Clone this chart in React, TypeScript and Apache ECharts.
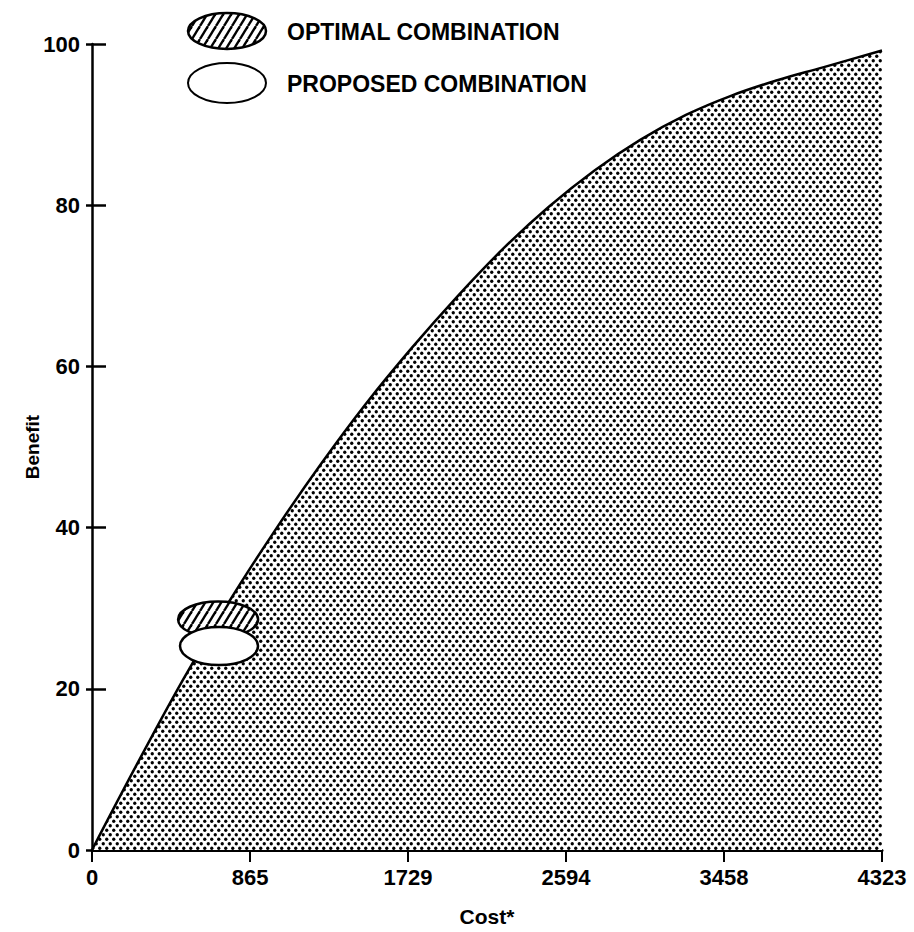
import React, { useEffect, useRef } from "react";
import * as echarts from "echarts";

const costTicks = [0, 865, 1729, 2594, 3458, 4323];
const benefitTicks = [0, 20, 40, 60, 80, 100];
const curveCost = [0, 250, 500, 750, 1000, 1250, 1500, 1750, 2000, 2250, 2500, 2750, 3000, 3250, 3500, 3750, 4000, 4323];
const curveBenefit = [0, 10.8, 21.2, 30.8, 39.6, 47.8, 55.4, 62.3, 68.7, 74.6, 79.8, 84.3, 88.1, 91.2, 93.6, 95.5, 97.1, 99.2];
const optimalPoint = [690, 28.6];
const proposedPoint = [695, 25.3];
const legendLabels = ["OPTIMAL COMBINATION", "PROPOSED COMBINATION"];
const xTitle = "Cost*";
const yTitle = "Benefit";

const FONT = "'Liberation Sans', Arial, sans-serif";

function makeDots(): HTMLCanvasElement {
  const c = document.createElement("canvas");
  c.width = 7;
  c.height = 9;
  const g = c.getContext("2d")!;
  g.fillStyle = "#fff";
  g.fillRect(0, 0, 7, 9);
  g.fillStyle = "#000";
  const dots = [
    [1.75, 2.25],
    [5.25, 6.75],
  ];
  for (const [x, y] of dots) {
    g.beginPath();
    g.arc(x, y, 1.65, 0, Math.PI * 2);
    g.fill();
  }
  return c;
}

function makeHatch(): HTMLCanvasElement {
  const c = document.createElement("canvas");
  c.width = 8;
  c.height = 13;
  const g = c.getContext("2d")!;
  g.fillStyle = "#fff";
  g.fillRect(0, 0, 8, 13);
  g.strokeStyle = "#000";
  g.lineWidth = 2.4;
  for (const off of [-8, 0, 8]) {
    g.beginPath();
    g.moveTo(off, 13);
    g.lineTo(off + 8, 0);
    g.stroke();
  }
  return c;
}

export default function App() {
  const ref = useRef<HTMLDivElement>(null);
  useEffect(() => {
    if (!ref.current) return;
    const chart = echarts.init(ref.current, null, { renderer: "svg" });
    const dots = makeDots();
    const hatch = makeHatch();
    const curve = curveCost.map((c, i) => [c, curveBenefit[i]]);
    const labelStyle = { color: "#000", fontFamily: FONT, fontWeight: "bold" as const, fontSize: 22 };
    const ellipseSeries = (point: number[], fill: any, rx: number, ry: number, z: number) => ({
      type: "custom",
      coordinateSystem: "cartesian2d",
      data: [point],
      encode: { x: 0, y: 1 },
      z,
      renderItem: (_params: any, api: any) => {
        const p = api.coord([api.value(0), api.value(1)]);
        return {
          type: "ellipse",
          shape: { cx: p[0], cy: p[1], rx, ry },
          style: { fill, stroke: "#000", lineWidth: 2.5 },
        };
      },
    });
    chart.setOption({
      animation: false,
      backgroundColor: "#fff",
      grid: { left: 92, right: 32, top: 44, bottom: 75 },
      xAxis: {
        type: "value",
        min: 0,
        max: 4323,
        name: xTitle,
        nameLocation: "middle",
        nameGap: 56,
        nameMoveOverlap: false,
        nameTextStyle: { ...labelStyle, fontSize: 21 },
        axisLine: { show: true, lineStyle: { color: "#000", width: 3 } },
        axisTick: { show: true, length: 12, lineStyle: { color: "#000", width: 2 }, customValues: costTicks },
        axisLabel: { ...labelStyle, margin: 16, customValues: costTicks, formatter: (v: number) => String(v) },
        splitLine: { show: false },
      },
      yAxis: [
        {
          type: "value",
          min: 0,
          max: 100,
          interval: 20,
          position: "left",
          name: yTitle,
          nameLocation: "middle",
          nameGap: 50,
          nameMoveOverlap: false,
          nameRotate: 90,
          nameTextStyle: { ...labelStyle, fontSize: 19 },
          axisLine: { show: true, lineStyle: { color: "#000", width: 2.5 } },
          axisTick: { show: true, length: 6, lineStyle: { color: "#000", width: 2.5 } },
          axisLabel: { ...labelStyle, margin: 12, customValues: benefitTicks, formatter: (v: number) => String(v) },
          splitLine: { show: false },
        },
        {
          type: "value",
          min: 0,
          max: 100,
          interval: 20,
          position: "left",
          axisLine: { show: false },
          axisTick: { show: true, inside: true, length: 14, lineStyle: { color: "#000", width: 2.5 } },
          axisLabel: { show: false },
          splitLine: { show: false },
        },
      ],
      series: [
        {
          type: "line",
          data: curve,
          smooth: 0.4,
          symbol: "none",
          lineStyle: { color: "#000", width: 2.5 },
          areaStyle: { color: { image: dots, repeat: "repeat" }, opacity: 1 },
          z: 2,
        },
        ellipseSeries(optimalPoint, { image: hatch, repeat: "repeat" }, 40, 18, 3),
        ellipseSeries(proposedPoint, "#fff", 39, 19, 4),
      ],
      graphic: [
        {
          type: "ellipse",
          shape: { cx: 227, cy: 31, rx: 39, ry: 18 },
          style: { fill: { image: hatch, repeat: "repeat" } as any, stroke: "#000", lineWidth: 2.5 },
        },
        {
          type: "ellipse",
          shape: { cx: 227, cy: 83, rx: 39, ry: 20 },
          style: { fill: "#fff", stroke: "#000", lineWidth: 2 },
        },
        {
          type: "text",
          x: 287,
          y: 32,
          style: { text: legendLabels[0], fill: "#000", font: `bold 23px ${FONT}`, verticalAlign: "middle" },
        },
        {
          type: "text",
          x: 287,
          y: 84,
          style: { text: legendLabels[1], fill: "#000", font: `bold 23px ${FONT}`, verticalAlign: "middle" },
        },
      ],
    });
    return () => chart.dispose();
  }, []);
  return (
    <div
      ref={ref}
      style={{ position: "fixed", left: 0, top: 0, width: 914, height: 932, background: "#fff" }}
    />
  );
}
